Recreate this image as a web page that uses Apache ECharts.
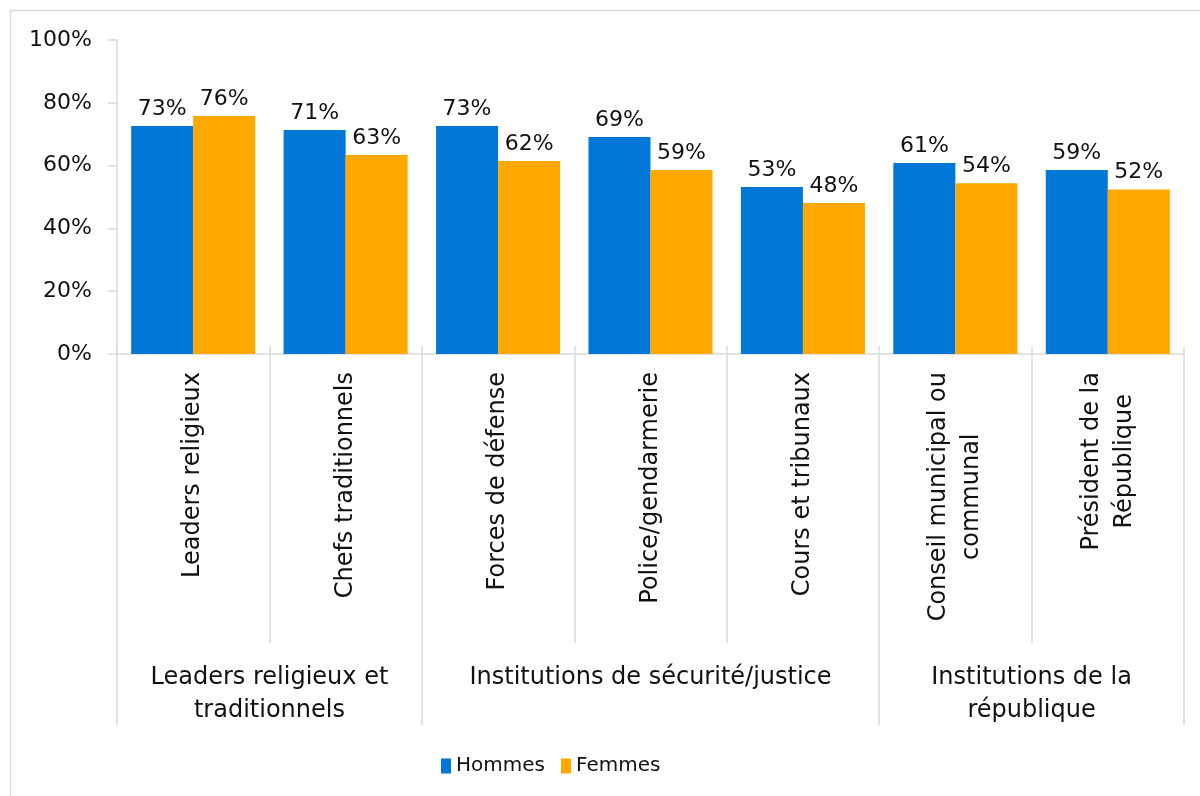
<!DOCTYPE html>
<html>
<head>
<meta charset="utf-8">
<script src="https://cdn.jsdelivr.net/npm/echarts@6/dist/echarts.min.js"></script>
<style>
html,body{margin:0;padding:0;background:#fff;}
#chart{width:1200px;height:796px;}
</style>
</head>
<body>
<div id="chart"></div>
<script>
const categories = ['Leaders religieux', 'Chefs traditionnels', 'Forces de défense', 'Police/gendarmerie', 'Cours et tribunaux', 'Conseil municipal ou\ncommunal', 'Président de la\nRépublique'];
const groups = [
  {label: 'Leaders religieux et\ntraditionnels', center: 1},
  {label: 'Institutions de sécurité/justice', center: 3.5},
  {label: 'Institutions de la\nrépublique', center: 6}
];
const groupStartIndices = [0, 2, 5];
const hommes = [72.6, 71.3, 72.6, 69.1, 53.2, 60.8, 58.6];
const femmes = [75.8, 63.4, 61.5, 58.6, 48.1, 54.4, 52.4];
const yTicks = [0, 20, 40, 60, 80, 100];

const FONT = 'DejaVu Sans';
const TXT = '#111111';
const GRAY = '#d9d9d9';

const chart = echarts.init(document.getElementById('chart'));
chart.setOption({
  animation: false,
  textStyle: {fontFamily: FONT},
  graphic: [{
    type: 'rect', shape: {x: 10.5, y: 10.5, width: 1400, height: 1000},
    style: {fill: 'none', stroke: GRAY, lineWidth: 1.5}, silent: true
  }],
  grid: {left: 117, right: 16, top: 40, bottom: 442},
  legend: {
    left: 436, top: 751,
    icon: 'rect', itemWidth: 10, itemHeight: 15, itemGap: 16,
    textStyle: {fontSize: 20, color: TXT, fontFamily: FONT},
    data: ['Hommes', 'Femmes']
  },
  xAxis: [{
    type: 'category', data: categories, position: 'bottom',
    axisLine: {show: true, lineStyle: {color: GRAY, width: 1.5}},
    axisTick: {show: true, interval: 0, length: 289, lineStyle: {color: GRAY, width: 1.5}},
    axisLabel: {
      rotate: 90, margin: 18, interval: 0, fontSize: 24, color: TXT, fontFamily: FONT,
      lineHeight: 33,
      formatter: v => v.split('\n').map(s => '{a|' + s + '}').join('\n'),
      rich: {a: {align: 'center', fontSize: 24, lineHeight: 33, color: TXT, fontFamily: FONT}}
    }
  }, {
    type: 'category', data: categories, position: 'bottom', gridIndex: 0,
    axisLine: {show: false},
    axisTick: {show: true, length: 371, interval: (i) => groupStartIndices.indexOf(i) >= 0,
      lineStyle: {color: GRAY, width: 1.5}},
    axisLabel: {show: false}
  }, {
    type: 'category', data: categories, position: 'bottom', gridIndex: 0,
    axisLine: {show: false},
    axisTick: {show: true, inside: true, interval: 0, length: 8, lineStyle: {color: GRAY, width: 1.5}},
    axisLabel: {show: false}
  }, {
    type: 'value', position: 'bottom', gridIndex: 0, min: 0, max: 7, interval: 0.5,
    axisLine: {show: false}, axisTick: {show: false}, splitLine: {show: false},
    axisLabel: {
      margin: 307, fontSize: 24, color: TXT, fontFamily: FONT, lineHeight: 33,
      showMinLabel: true, showMaxLabel: true,
      formatter: v => { const g = groups.find(g => Math.abs(g.center - v) < 1e-6); return g ? g.label : ''; }
    }
  }],
  yAxis: {
    type: 'value', min: 0, max: 100, interval: 20,
    axisLine: {show: true, lineStyle: {color: GRAY, width: 1.5}},
    axisTick: {show: true, length: 9, lineStyle: {color: GRAY, width: 1.5}},
    splitLine: {show: false},
    axisLabel: {margin: 25, fontSize: 22, color: TXT, fontFamily: FONT,
      formatter: v => yTicks.indexOf(v) >= 0 ? v + '%' : ''}
  },
  series: [{
    name: 'Hommes', type: 'bar', xAxisIndex: 0, data: hommes,
    barWidth: '40.7%', barGap: '0%',
    itemStyle: {color: '#0177D8'},
    label: {show: true, position: 'top', distance: 6, fontSize: 22, color: TXT, fontFamily: FONT,
      formatter: p => Math.round(p.value) + '%'}
  }, {
    name: 'Femmes', type: 'bar', xAxisIndex: 0, data: femmes,
    barWidth: '40.7%', barGap: '0%',
    itemStyle: {color: '#FFA800'},
    label: {show: true, position: 'top', distance: 6, fontSize: 22, color: TXT, fontFamily: FONT,
      formatter: p => Math.round(p.value) + '%'}
  }]
});
</script>
</body>
</html>
